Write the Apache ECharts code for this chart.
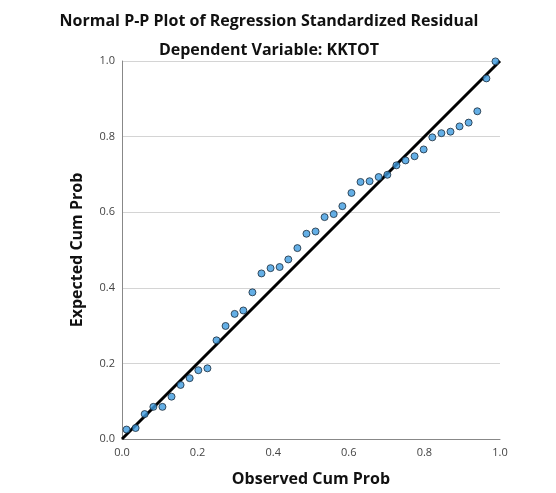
<!DOCTYPE html>
<html><head><meta charset="utf-8">
<script src="https://cdn.jsdelivr.net/npm/echarts@6/dist/echarts.min.js"></script>
<style>html,body{margin:0;padding:0;background:#fff}#c{width:556px;height:493px}</style>
</head><body><div id="c"></div>
<script>
var observed = [0.012,0.036,0.060,0.083,0.107,0.131,0.155,0.179,0.202,0.226,0.250,0.274,0.298,0.321,0.345,0.369,0.393,0.417,0.440,0.464,0.488,0.512,0.536,0.560,0.583,0.607,0.631,0.655,0.679,0.702,0.726,0.750,0.774,0.798,0.821,0.845,0.869,0.893,0.917,0.940,0.964,0.988];
var expected = [0.025,0.029,0.066,0.085,0.085,0.112,0.143,0.161,0.182,0.187,0.261,0.299,0.331,0.340,0.388,0.438,0.452,0.455,0.475,0.505,0.543,0.549,0.587,0.595,0.616,0.651,0.680,0.682,0.693,0.699,0.724,0.737,0.748,0.766,0.798,0.809,0.813,0.827,0.837,0.867,0.954,0.999];
var refLine = [[0,0],[1,1]];
var ticks = [0,0.2,0.4,0.6,0.8,1.0];

var pts = observed.map(function(x,i){return [x, expected[i]];});
var chart = echarts.init(document.getElementById('c'));
var font = '"Open Sans", "Liberation Sans", sans-serif';
chart.setOption({
  animation:false,
  backgroundColor:'#fff',
  title:[
    {text:'Normal P-P Plot of Regression Standardized Residual', left:264, top:8, textAlign:'center',
     textStyle:{fontFamily:font,fontSize:16,fontWeight:'bold',color:'#111'}},
    {text:'Dependent Variable: KKTOT', left:264, top:37, textAlign:'center',
     textStyle:{fontFamily:font,fontSize:16,fontWeight:'bold',color:'#111'}}
  ],
  grid:{left:122,right:56,top:61,bottom:54},
  xAxis:{type:'value',min:0,max:1,interval:0.2,
    name:'Observed Cum Prob',nameLocation:'middle',nameGap:32,
    nameTextStyle:{fontFamily:font,fontSize:16,fontWeight:'bold',color:'#111'},
    axisLine:{show:true,lineStyle:{color:'#888',width:1}},
    axisTick:{show:false},
    axisLabel:{fontFamily:font,fontSize:11,color:'#444',margin:8,formatter:function(v){return v.toFixed(1);}},
    splitLine:{show:false}},
  yAxis:{type:'value',min:0,max:1,interval:0.2,
    name:'Expected Cum Prob',nameLocation:'middle',nameGap:37,
    nameTextStyle:{fontFamily:font,fontSize:16,fontWeight:'bold',color:'#111'},
    axisLine:{show:true,lineStyle:{color:'#888',width:1}},
    axisTick:{show:false},
    axisLabel:{fontFamily:font,fontSize:11,color:'#444',margin:7,formatter:function(v){return v.toFixed(1);}},
    splitLine:{show:true,lineStyle:{color:'#d4d4d4',width:1}}},
  series:[
    {type:'line',data:refLine,symbol:'none',lineStyle:{color:'#000',width:3},z:3,silent:true},
    {type:'scatter',data:pts,symbol:'circle',symbolSize:7,z:4,
     itemStyle:{color:'#3d9be0',borderColor:'#1a2a3a',borderWidth:1}}
  ]
});
</script></body></html>
